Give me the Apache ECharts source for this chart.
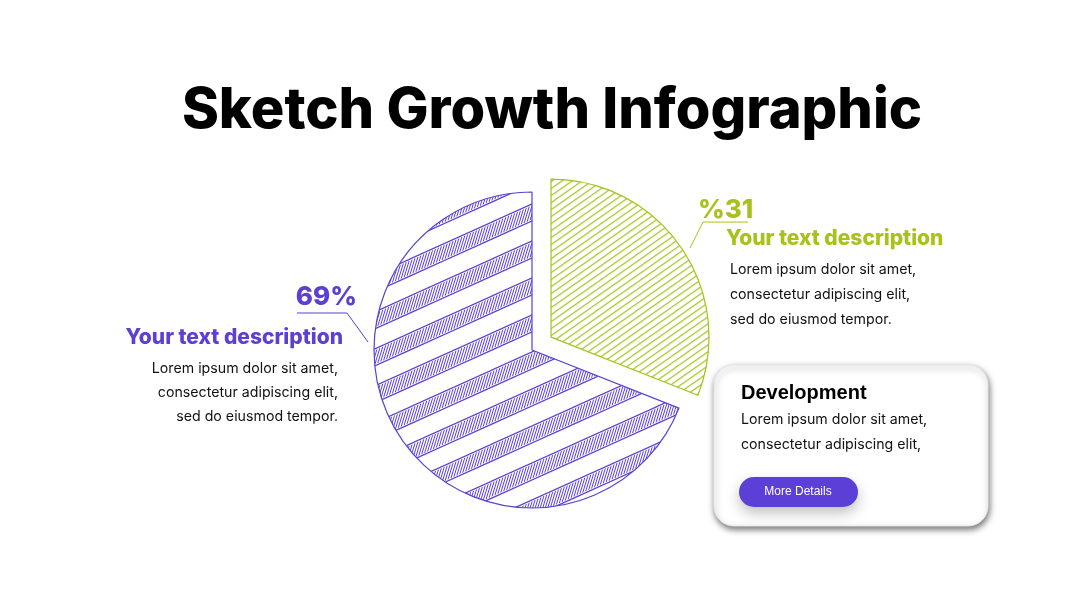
<!DOCTYPE html>
<html>
<head>
<meta charset="utf-8">
<script src="https://cdn.jsdelivr.net/npm/echarts@6/dist/echarts.min.js"></script>
<style>
html,body{margin:0;padding:0;background:#fff;}
#chart{width:1080px;height:608px;}
</style>
</head>
<body>
<div id="chart"></div>
<script>
// ---- data ----
const sliceNames = ['Right segment', 'Left segment'];
const sliceValues = [31, 69];
const sliceLabels = ['%31', '69%'];
const titleText = 'Sketch Growth Infographic';
const descTitle = 'Your text description';
const descLines = ['Lorem ipsum dolor sit amet,', 'consectetur adipiscing elit,', 'sed do eiusmod tempor.'];
const cardTitle = 'Development';
const cardLines = ['Lorem ipsum dolor sit amet,', 'consectetur adipiscing elit,'];
const buttonText = 'More Details';

// ---- styles ----
const PURPLE = '#5b40d3';
const GREEN = '#a8c11c';
const BODY_FONT = 'Inter, "Open Sans", sans-serif';

function greenTile() {
  const W = 10, H = 7;
  const c = document.createElement('canvas');
  c.width = W; c.height = H;
  const g = c.getContext('2d');
  g.fillStyle = '#fff'; g.fillRect(0, 0, W, H);
  g.strokeStyle = GREEN; g.lineWidth = 1.15;
  for (let k = -1; k <= 2; k++) {
    g.beginPath();
    g.moveTo(-1, k * H + H / W);
    g.lineTo(W + 1, k * H - H - H / W);
    g.stroke();
  }
  return c;
}

function purpleTile() {
  const W = 82, H = 37, B = 17;
  const s = H / W;
  const c = document.createElement('canvas');
  c.width = W; c.height = H;
  const g = c.getContext('2d');
  g.fillStyle = '#fff'; g.fillRect(0, 0, W, H);
  g.strokeStyle = PURPLE;
  for (let k = -2; k <= 3; k++) {
    g.lineWidth = 1.2;
    [0, B].forEach(b => {
      g.beginPath();
      g.moveTo(-2, b + k * H + 2 * s);
      g.lineTo(W + 2, b + k * H - s * (W + 2));
      g.stroke();
    });
    g.lineWidth = 1;
    for (let x = -W; x < 2 * W; x += 82 / 28) {
      const x2 = x + 5;
      g.beginPath();
      g.moveTo(x, B - s * x + k * H - 1.5);
      g.lineTo(x2, -s * x2 + k * H + 1.5);
      g.stroke();
    }
  }
  return c;
}

const fills = [
  { image: greenTile(), repeat: 'repeat' },
  { image: purpleTile(), repeat: 'repeat' }
];
const strokes = [GREEN, PURPLE];

const CX = 532, CY = 350, R = 158;

const chart = echarts.init(document.getElementById('chart'));

const pieData = sliceValues.map((v, i) => {
  const st = { color: fills[i], borderColor: strokes[i], borderWidth: 1.2 };
  const item = {
    name: sliceNames[i],
    value: v,
    selected: i === 0,
    itemStyle: st,
    select: { itemStyle: st },
    label: { color: strokes[i] },
    labelLine: { lineStyle: { color: strokes[i], width: 1 } }
  };
  if (i === 0) {
    item.labelLine.length = 45;
    item.labelLine.length2 = 0;
    item.label.distanceToLabelLine = -21;
    item.label.lineHeight = 26;
  }
  return item;
});

function txt(x, y, text, opt) {
  return {
    type: 'text', x: x, y: y, silent: true,
    style: Object.assign({ text: text, fill: '#111', font: '14px ' + BODY_FONT, textAlign: 'left', textVerticalAlign: 'middle' }, opt || {})
  };
}

const graphics = [];
graphics.push(txt(552, 111, titleText, { font: '800 56px ' + BODY_FONT, fill: '#000', textAlign: 'center' }));
// left description
graphics.push(txt(343, 338, descTitle, { font: '800 21px ' + BODY_FONT, fill: PURPLE, textAlign: 'right' }));
descLines.forEach((l, i) => graphics.push(txt(338, 369 + i * 24, l, { textAlign: 'right', font: '14.2px ' + BODY_FONT })));
// right description
graphics.push(txt(726, 239, descTitle, { font: '800 21px ' + BODY_FONT, fill: GREEN }));
descLines.forEach((l, i) => graphics.push(txt(730, 270 + i * 25, l, { font: '14.2px ' + BODY_FONT })));
// card
graphics.push({
  type: 'rect', silent: true, z: 1,
  shape: { x: 714, y: 365, width: 274, height: 161, r: 20 },
  style: { fill: '#fff', stroke: '#e6e6e6', lineWidth: 1, shadowBlur: 6, shadowOffsetX: 1, shadowOffsetY: 3, shadowColor: 'rgba(0,0,0,0.55)' }
});
graphics.push(Object.assign(txt(741, 393, cardTitle, { font: 'bold 20px "Liberation Sans", Arial, sans-serif', fill: '#000' }), { z: 2 }));
cardLines.forEach((l, i) => graphics.push(Object.assign(txt(741, 420 + i * 25, l, { font: '14.2px ' + BODY_FONT }), { z: 2 })));
graphics.push({
  type: 'rect', silent: true, z: 2,
  shape: { x: 739, y: 477, width: 119, height: 30, r: 15 },
  style: { fill: '#5b3fd6', shadowBlur: 14, shadowOffsetY: 6, shadowColor: 'rgba(0,0,0,0.25)' }
});
graphics.push(Object.assign(txt(798, 492, buttonText, { font: '12px "Liberation Sans", Arial, sans-serif', fill: '#fff', textAlign: 'center' }), { z: 3 }));

chart.setOption({
  animation: false,
  backgroundColor: '#fff',
  graphic: graphics,
  series: [{
    type: 'pie',
    center: [CX, CY],
    radius: [0, R],
    startAngle: 90,
    clockwise: true,
    selectedMode: 'single',
    selectedOffset: 23,
    avoidLabelOverlap: false,
    emphasis: { disabled: true },
    label: {
      show: true,
      formatter: p => p.dataIndex === 0 ? sliceLabels[0] + '\n ' : sliceLabels[p.dataIndex],
      fontFamily: BODY_FONT,
      fontWeight: 800,
      fontSize: 26
    },
    labelLine: { show: true, smooth: false },
    labelLayout: function (params) {
      if (params.dataIndex === 0) {
        return {
          labelLinePoints: [[CX + 139, CY - 89], [CX + 152, CY - 115], [CX + 197, CY - 115]]
        };
      }
      return {
        x: CX - 175, y: CY - 40, align: 'right', verticalAlign: 'bottom',
        labelLinePoints: [[CX - 164, CY - 8], [CX - 185, CY - 37], [CX - 235, CY - 37]]
      };
    },
    data: pieData
  }]
});
</script>
</body>
</html>
